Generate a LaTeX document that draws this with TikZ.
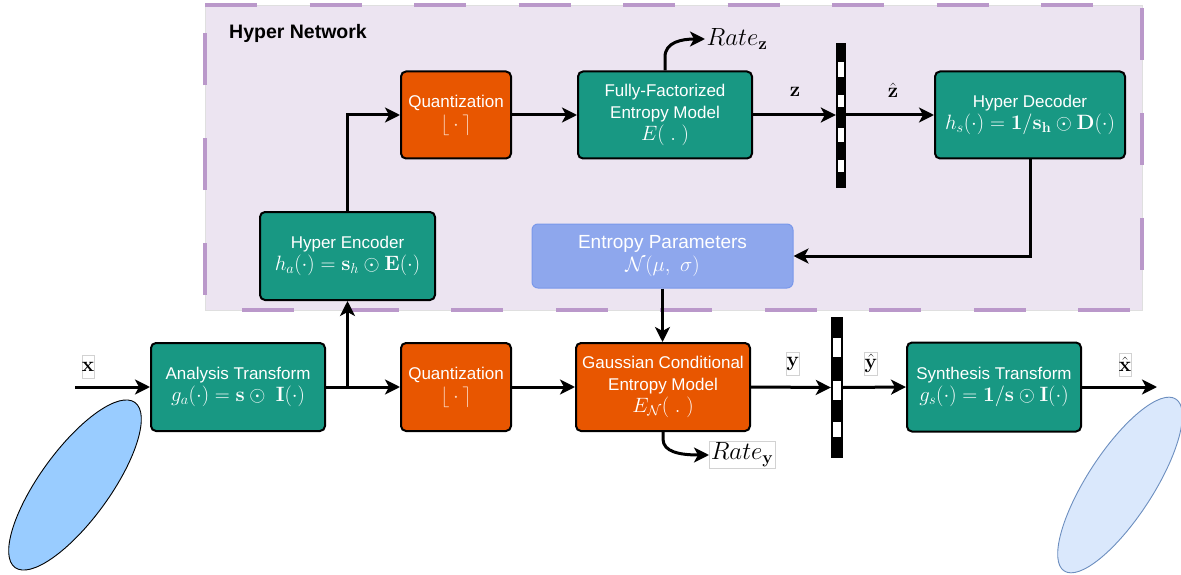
\documentclass[tikz,border=0pt]{standalone}
\usepackage[no-math]{fontspec}
\newfontfamily\boxfont{Liberation Sans}
\usetikzlibrary{arrows.meta}

\definecolor{tealfill}{RGB}{24,152,131}
\definecolor{orangefill}{RGB}{232,86,0}
\definecolor{paramfill}{RGB}{142,167,237}
\definecolor{paramline}{RGB}{122,152,234}
\definecolor{hyperbg}{RGB}{236,228,241}
\definecolor{hyperdash}{RGB}{186,152,202}
\definecolor{roundcol}{RGB}{252,214,190}
\definecolor{inblue}{RGB}{153,204,255}
\definecolor{outblue}{RGB}{218,232,252}
\definecolor{outline}{RGB}{108,142,191}

\newcommand\mth[1]{{\fontsize{20.5}{22}\selectfont #1}}

\tikzset{
  blk/.style={draw=black, line width=2pt, rounded corners=5pt, text=white,
    align=center, inner sep=0pt, font=\boxfont\fontsize{17}{22}\selectfont},
  tealbox/.style={blk, fill=tealfill},
  orangebox/.style={blk, fill=orangefill},
  parambox/.style={draw=paramline, line width=1pt, fill=paramfill, rounded corners=6pt,
    text=white, align=center, inner sep=0pt, font=\boxfont\fontsize{19}{23}\selectfont},
  arr/.style={line width=3pt, -{Stealth[length=15pt,width=15pt,inset=4pt]}},
  lbl/.style={draw=gray!35, line width=0.5pt, inner sep=0pt, minimum width=12pt,
    minimum height=23pt, font=\fontsize{21}{21}\selectfont},
  plainlbl/.style={inner sep=1pt, font=\fontsize{21}{21}\selectfont},
  ratelbl/.style={inner sep=1.5pt, font=\fontsize{23}{23}\selectfont},
}

\begin{document}
\begin{tikzpicture}[x=1pt,y=-1pt]
\useasboundingbox (0,0) rectangle (1181,575);

% hyper network panel
\fill[hyperbg] (205,5) rectangle (1142,310);
\draw[gray!25, line width=0.8pt] (205,5) rectangle (1142,310);
\draw[hyperdash, line width=4pt, dash pattern=on 52pt off 52.5pt]
  (205,5) -- (1142,5) -- (1142,310) -- (205,310) -- cycle;
\node[anchor=west, inner sep=0pt, font=\boxfont\bfseries\fontsize{19.5}{19.5}\selectfont] (hn) at (229,33) {Hyper Network};

% input / output ellipses
\draw[fill=inblue, line width=0.9pt, rotate around={54:(75,485)}] (75,485) ellipse [x radius=102, y radius=35];
\draw[fill=outblue, draw=outline, line width=0.9pt, rotate around={57:(1120,485)}] (1120,485) ellipse [x radius=102.5, y radius=33];

% hyper network blocks
\node[tealbox, minimum width=175pt, minimum height=88pt] (he) at (347.5,256)
  {Hyper Encoder\\\mth{$h_a(\cdot) = \mathbf{s}_h \odot \mathbf{E}(\cdot)$}};
\node[orangebox, minimum width=110pt, minimum height=87pt] (qt) at (456,115)
  {Quantization\\[1pt]{\fontsize{22}{22}\selectfont\color{roundcol}$\lfloor\,\cdot\,\rceil$}};
\node[tealbox, minimum width=174pt, minimum height=87pt] (ff) at (665,115)
  {Fully-Factorized\\Entropy Model\\\mth{$E(\ .\ )$}};
\node[tealbox, minimum width=190pt, minimum height=87pt] (hd) at (1030,115)
  {Hyper Decoder\\\mth{$h_s(\cdot) = \mathbf{1/s_h} \odot \mathbf{D}(\cdot)$}};
\node[parambox, minimum width=261pt, minimum height=64pt] (ep) at (662.5,256)
  {Entropy Parameters\\{\fontsize{22}{23}\selectfont$\mathcal{N}(\mu,\ \sigma)$}};

% main path blocks
\node[tealbox, minimum width=174pt, minimum height=88pt] (at) at (238,387)
  {Analysis Transform\\\mth{$g_a(\cdot) = \mathbf{s} \odot\ \mathbf{I}(\cdot)$}};
\node[orangebox, minimum width=110pt, minimum height=88pt] (qb) at (456,387)
  {Quantization\\[1pt]{\fontsize{22}{22}\selectfont\color{roundcol}$\lfloor\,\cdot\,\rceil$}};
\node[orangebox, minimum width=174pt, minimum height=88pt] (gc) at (663,387)
  {Gaussian Conditional\\Entropy Model\\\mth{$E_{\mathcal{N}}(\ .\ )$}};
\node[tealbox, minimum width=174pt, minimum height=89pt] (st) at (994,387)
  {Synthesis Transform\\\mth{$g_s(\cdot) = \mathbf{1/s} \odot \mathbf{I}(\cdot)$}};

% channel bars
\node[fill=black, inner sep=0pt, minimum width=10pt, minimum height=145pt] (zbar) at (841,115.5) {};
\foreach \a/\b in {62/77,95/107,128/142,160/172}
  \fill[white] (838.3,\a) rectangle (843.7,\b);
\node[fill=black, inner sep=0pt, minimum width=12pt, minimum height=141pt] (ybar) at (837,387.5) {};
\foreach \a/\b in {338/357,381/400,422/437}
  \fill[white] (833.3,\a) rectangle (840.7,\b);

% labels
\node[lbl] (xl) at (88,366.5) {$\mathbf{x}$};
\node[lbl] (yl) at (793,363.5) {$\mathbf{y}$};
\node[lbl] (yhl) at (871,363.5) {$\hat{\mathbf{y}}$};
\node[lbl] (xhl) at (1125,364.5) {$\hat{\mathbf{x}}$};
\node[plainlbl] (zl) at (795,92) {$\mathbf{z}$};
\node[plainlbl] (zhl) at (893,90) {$\hat{\mathbf{z}}$};
\node[ratelbl, anchor=west] (ratez) at (705,39) {$Rate_{\mathbf{z}}$};
\node[ratelbl, draw=gray!35, line width=0.5pt, anchor=west] (ratey) at (709,455) {$Rate_{\mathbf{y}}$};

% connectors
\coordinate (xin) at (75,387);
\coordinate (xout) at (1157,387);
\coordinate (split) at (he.south |- at.east);
\draw[arr] (xin) -- (at.west);
\draw[arr] (at.east) -- (qb.west);
\draw[arr] (split) -- (he.south);
\draw[arr] (qb.east) -- (gc.west);
\draw[arr] (gc.east) -- (ybar.west);
\draw[arr] (ybar.east) -- (st.west);
\draw[arr] (st.east) -- (xout);

\draw[arr] (he.north) |- (qt.west);
\draw[arr] (qt.east) -- (ff.west);
\draw[arr] (ff.east) -- (zbar.west |- ff.east);
\draw[arr] (zbar.east |- hd.west) -- (hd.west);
\draw[arr] (hd.south) |- (ep.east);
\draw[arr] (ep.south) -- (ep.south |- gc.north);

\coordinate (rzk) at (665,57);
\draw[arr] (ff.north) -- (rzk) .. controls (665,42) and (682,39) .. (ratez.west);
\coordinate (ryk) at (663,439);
\draw[arr] (gc.south) -- (ryk) .. controls (663,452) and (680,455) .. (ratey.west);
\end{tikzpicture}
\end{document}
